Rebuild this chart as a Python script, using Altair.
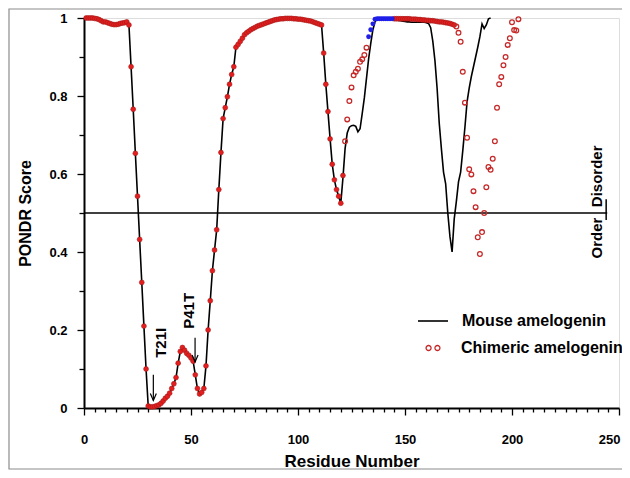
import altair as alt
import pandas as pd

# ---------------- data ----------------
# PONDR score of mouse amelogenin, residues 1..190
mouse_values = [
    1.0, 1.0, 1.0, 1.0, 0.999, 0.998, 0.996, 0.993, 0.99, 0.99,
    0.988, 0.986, 0.984, 0.983, 0.983, 0.984, 0.986, 0.987, 0.988, 0.99,
    0.982, 0.875, 0.766, 0.653, 0.543, 0.432, 0.322, 0.21, 0.10, 0.005,
    0.003, 0.003, 0.004, 0.006, 0.008, 0.012, 0.018, 0.025, 0.03, 0.038,
    0.05, 0.062, 0.078, 0.115, 0.145, 0.155, 0.148, 0.14, 0.135, 0.128,
    0.12, 0.085, 0.05, 0.036, 0.04, 0.05, 0.108, 0.2, 0.275, 0.352,
    0.405, 0.457, 0.56, 0.655, 0.742, 0.77, 0.798, 0.83, 0.855, 0.875,
    0.925, 0.932, 0.94, 0.948, 0.957, 0.962, 0.966, 0.97, 0.973, 0.976,
    0.979, 0.981, 0.983, 0.985, 0.987, 0.989, 0.991, 0.993, 0.995, 0.996,
    0.997, 0.998, 0.998, 0.999, 0.999, 0.999, 0.999, 0.998, 0.998, 0.997,
    0.997, 0.996, 0.995, 0.994, 0.993, 0.992, 0.99, 0.988, 0.986, 0.984,
    0.982, 0.91, 0.83, 0.76, 0.69, 0.625, 0.585, 0.56, 0.543, 0.525,
    0.59, 0.665, 0.705, 0.72, 0.724, 0.725, 0.722, 0.708, 0.716, 0.755,
    0.795, 0.845, 0.895, 0.935, 0.97, 0.99, 0.998, 0.998, 0.998, 0.998,
    0.998, 0.998, 0.997, 0.997, 0.996, 0.995, 0.994, 0.993, 0.992, 0.991,
    0.99, 0.99, 0.989, 0.989, 0.989, 0.989, 0.989, 0.989, 0.989, 0.988,
    0.986, 0.975, 0.94, 0.89, 0.82, 0.73, 0.665, 0.605, 0.575, 0.50,
    0.44, 0.40, 0.485, 0.53, 0.58, 0.605, 0.66, 0.72, 0.785, 0.82,
    0.85, 0.875, 0.90, 0.925, 0.952, 0.985, 0.973, 0.982, 0.998, 1.0,
]

# chimeric amelogenin: residues 1..120 coincide with the mouse curve,
# residues 121..203 below
chimeric_tail = [
    0.596, 0.684, 0.74, 0.787, 0.822, 0.853, 0.862, 0.87, 0.888, 0.894,
    0.905, 0.924, 0.952, 0.97, 0.985, 0.997, 0.998, 0.998, 0.998, 0.998,
    0.998, 0.998, 0.998, 0.998, 0.998, 0.998, 0.998, 0.998, 0.998, 0.998,
    0.998, 0.998, 0.997, 0.997, 0.997, 0.996, 0.996, 0.995, 0.995, 0.994,
    0.994, 0.993, 0.993, 0.992, 0.991, 0.99, 0.99, 0.989, 0.988, 0.987,
    0.986, 0.984, 0.982, 0.978, 0.962, 0.939, 0.862, 0.783, 0.693, 0.612,
    0.599, 0.556, 0.515, 0.438, 0.395, 0.451, 0.5, 0.566, 0.618, 0.611,
    0.639, 0.684, 0.77, 0.83, 0.849, 0.879, 0.9, 0.931, 0.948, 0.989,
    0.969, 0.968, 0.997,
]

series_names = ["Mouse amelogenin", "Chimeric amelogenin"]
x_tick_values = list(range(0, 251, 5))
y_tick_values = [0.0, 0.1, 0.2, 0.3, 0.4, 0.5, 0.6, 0.7, 0.8, 0.9, 1.0]

# residue ranges of the chimeric curve drawn in the three styles
SHARED_END = 121
INSERT_START, INSERT_END = 133, 144
PLATEAU_END = 173

mouse_res = list(range(1, len(mouse_values) + 1))
chimeric_values = mouse_values[:120] + chimeric_tail
chimeric_res = list(range(1, len(chimeric_values) + 1))

mouse_df = pd.DataFrame({"residue": mouse_res, "score": mouse_values,
                         "series": series_names[0]})
chim_df = pd.DataFrame({"residue": chimeric_res, "score": chimeric_values,
                        "series": series_names[1]})

FONT = "Liberation Sans"

xs = alt.Scale(domain=[0, 250], nice=False)
ys = alt.Scale(domain=[0, 1], nice=False)

x_major = "datum.value % 50 === 0"
y_major = "round(datum.value * 10) % 2 === 0"
x_last = "datum.value === 250"

x_axis = alt.Axis(
    values=x_tick_values,
    labelExpr=f"{x_major} ? datum.label : ''",
    tickSize={"condition": {"test": x_major, "value": 7}, "value": 4},
    labelAlign={"condition": {"test": x_last, "value": "right"}, "value": "center"},
    labelOffset={"condition": {"test": x_last, "value": 1}, "value": 0},
    labelPadding=18, labelFont=FONT, labelFontSize=13, labelFontWeight="bold",
    labelColor="black", labelFlush=False, labelOverlap=False,
    domainColor="black", domainWidth=2, tickColor="black", tickWidth=1.3,
    grid=False, title="Residue Number", titleFont=FONT, titleFontSize=17,
    titleFontWeight="bold", titleColor="black", titlePadding=7,
)
y_axis = alt.Axis(
    values=y_tick_values,
    labelExpr=f"{y_major} ? format(datum.value, '.1~f') : ''",
    tickSize={"condition": {"test": y_major, "value": 7}, "value": 5},
    labelPadding=10, labelFont=FONT, labelFontSize=13, labelFontWeight="bold",
    labelColor="black", labelFlush=False, labelOverlap=False,
    domainColor="black", domainWidth=2, tickColor="black", tickWidth=1.3,
    grid=False, title="PONDR Score", titleFont=FONT, titleFontSize=16,
    titleFontWeight="bold", titleColor="black", titlePadding=15,
)


def px(field):
    return alt.X(field, scale=xs, axis=x_axis)


def py(field):
    return alt.Y(field, scale=ys, axis=y_axis)


two_circles = ("M-0.99,0a0.357,0.357 0 1,0 0.714,0a0.357,0.357 0 1,0 -0.714,0"
               "M0.276,0a0.357,0.357 0 1,0 0.714,0a0.357,0.357 0 1,0 -0.714,0")

mouse_line = alt.Chart(mouse_df).mark_line(strokeWidth=1.6).encode(
    x=px("residue:Q"), y=py("score:Q"),
    color=alt.Color("series:N",
                    scale=alt.Scale(domain=[series_names[0]], range=["#000000"]),
                    legend=alt.Legend(orient="none", legendX=333, legendY=287,
                                      title=None, symbolType="stroke",
                                      symbolSize=900, symbolStrokeWidth=1.6,
                                      labelOffset=13, labelFont=FONT,
                                      labelFontSize=16, labelFontWeight="bold",
                                      labelColor="black", labelLimit=400,
                                      padding=0)),
)

shared_pts = alt.Chart(chim_df).transform_filter(
    f"datum.residue <= {SHARED_END} || (datum.residue > {INSERT_END} && datum.residue <= {PLATEAU_END})"
).mark_point(shape="circle", filled=True, size=24, color="#e41e1e",
             stroke="#a31a1a", strokeWidth=0.6, opacity=1).encode(
    x=px("residue:Q"), y=py("score:Q"))

insert_pts = alt.Chart(chim_df).transform_filter(
    f"datum.residue >= {INSERT_START} && datum.residue <= {INSERT_END}"
).mark_point(shape="circle", filled=True, size=24, color="#1f1fe8",
             opacity=1).encode(x=px("residue:Q"), y=py("score:Q"))

distinct_pts = alt.Chart(chim_df).transform_filter(
    f"(datum.residue > {SHARED_END} && datum.residue < {INSERT_START}) || datum.residue > {PLATEAU_END}"
).mark_point(shape="circle", filled=False, size=22, strokeWidth=1.3,
             opacity=1).encode(
    x=px("residue:Q"), y=py("score:Q"),
    stroke=alt.Stroke("series:N",
                      scale=alt.Scale(domain=[series_names[1]], range=["#c62828"]),
                      legend=alt.Legend(orient="none", legendX=341, legendY=322,
                                        title=None, symbolType=two_circles,
                                        symbolSize=196, symbolStrokeWidth=1.3,
                                        symbolFillColor="transparent",
                                        labelOffset=20, labelFont=FONT,
                                        labelFontSize=16, labelFontWeight="bold",
                                        labelColor="black", labelLimit=400,
                                        padding=0)),
)

threshold = alt.Chart(pd.DataFrame({"score": [0.5], "residue": [0.0], "x1": [244.5]})).mark_rule(
    color="black", strokeWidth=1.5
).encode(x=px("residue:Q"), x2="x1:Q", y=py("score:Q"))

separator = alt.Chart(pd.DataFrame({"residue": [244.0], "score": [0.482], "y1": [0.535]})).mark_rule(
    color="black", strokeWidth=1.5
).encode(x=px("residue:Q"), y=py("score:Q"), y2="y1:Q")

labels_df = pd.DataFrame({
    "text": ["T21I", "P41T"],
    "residue": [36.0, 49.1],
    "score": [0.167, 0.249],
})
mutation_text = alt.Chart(labels_df).mark_text(
    angle=270, font=FONT, fontSize=15, fontWeight="bold", color="black",
    align="center", baseline="middle"
).encode(x=px("residue:Q"), y=py("score:Q"), text="text:N")

arrows_df = pd.DataFrame({
    "residue": [32.4, 51.9],
    "score": [0.019, 0.118],
    "top": [0.085, 0.18],
})
arrow_shaft = alt.Chart(arrows_df).mark_rule(color="black", strokeWidth=1.2).encode(
    x=px("residue:Q"), y=py("score:Q"), y2="top:Q")
arrow_head = alt.Chart(arrows_df).mark_point(
    shape="M-0.6,-1.4L0,0L0.6,-1.4", filled=False, size=100,
    color="black", strokeWidth=1.2, opacity=1
).encode(x=px("residue:Q"), y=py("score:Q"))

order_df = pd.DataFrame({"text": ["Disorder", "Order"], "residue": [239.7, 239.7],
                         "score": [0.515, 0.488]})
disorder_text = alt.Chart(order_df.iloc[[0]]).mark_text(
    angle=270, font=FONT, fontSize=15, fontWeight="bold", color="black",
    align="left", baseline="middle"
).encode(x=px("residue:Q"), y=py("score:Q"), text="text:N")
order_text = alt.Chart(order_df.iloc[[1]]).mark_text(
    angle=270, font=FONT, fontSize=15, fontWeight="bold", color="black",
    align="right", baseline="middle"
).encode(x=px("residue:Q"), y=py("score:Q"), text="text:N")

frame = alt.Chart(pd.DataFrame({"a": [0]})).mark_rect(
    fillOpacity=0, stroke="#8c8c8c", strokeWidth=1.2, clip=False
).encode(x=alt.value(-75), x2=alt.value(580), y=alt.value(-9), y2=alt.value(451))

chart = alt.layer(
    frame, threshold, separator, mouse_line, shared_pts, insert_pts, distinct_pts,
    mutation_text, arrow_shaft, arrow_head, disorder_text, order_text,
).resolve_scale(color="independent", stroke="independent").properties(
    width=535, height=390,
    autosize=alt.AutoSizeParams(type="none"),
    padding={"left": 76, "top": 10, "right": 3, "bottom": 62},
).configure_view(strokeWidth=0).configure(background="white")

chart.save("out.html", embed_options={"renderer": "svg", "actions": False})
